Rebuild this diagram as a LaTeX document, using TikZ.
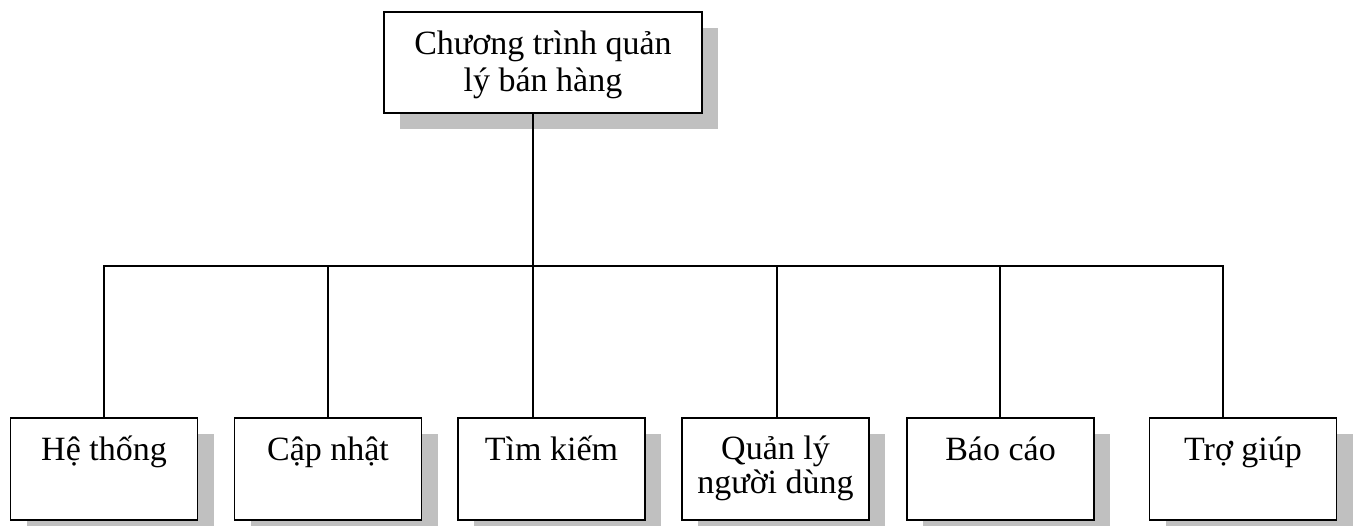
\documentclass[tikz,border=0pt]{standalone}
\usepackage{fontspec}
\setmainfont{Liberation Serif}
\usetikzlibrary{shadows}
\definecolor{shadowgray}{RGB}{192,192,192}
\begin{document}
\begin{tikzpicture}[x=1pt,y=-1pt,
  box/.style={draw=black,line width=1.8pt,fill=white,rectangle,inner sep=0pt,
    minimum height=102pt,minimum width=187pt,
    drop shadow={shadow xshift=16pt,shadow yshift=-16pt,fill=shadowgray,opacity=1}},
  label/.style={anchor=base,align=center,inner sep=0pt,
    font=\fontsize{34}{36}\selectfont},
  wire/.style={line width=1.8pt,line cap=rect}]
\useasboundingbox (0,0) rectangle (1354,526);

% root box
\node[box,minimum width=318pt,minimum height=101pt] (top) at (543,62.5) {};
% the base anchor of a two-line label sits on its last line
\node[label,font=\fontsize{34}{37}\selectfont,yshift=-80pt] (topt) at (top.north)
  {Chương trình quản\\lý bán hàng};

% child boxes
\node[box] (b1) at (104,469) {};
\node[box] (b2) at (328,469) {};
\node[box] (b3) at (551.5,469) {};
\node[box] (b4) at (775.5,469) {};
\node[box] (b5) at (1000.5,469) {};
\node[box] (b6) at (1243,469) {};

\node[label,yshift=-43pt] (t1) at (b1.north) {Hệ thống};
\node[label,yshift=-43pt] (t2) at (b2.north) {Cập nhật};
\node[label,yshift=-43pt] (t3) at (b3.north) {Tìm kiếm};
\node[label,font=\fontsize{34}{34}\selectfont,yshift=-76pt] (t4) at (b4.north)
  {Quản lý\\người dùng};
\node[label,yshift=-43pt] (t5) at (b5.north) {Báo cáo};
\node[label,yshift=-43pt] (t6) at (b6.north) {Trợ giúp};

% junctions on the horizontal bus
\coordinate (j1) at (104,266);
\coordinate (j2) at (328,266);
\coordinate (j3) at (533,266);
\coordinate (j4) at (777,266);
\coordinate (j5) at (1000,266);
\coordinate (j6) at (1223,266);

\draw[wire,line cap=butt] (top.south -| j3) -- (j3);
\draw[wire,line join=miter] (b1.north -| j1) -- (j1) -- (j6) -- (b6.north -| j6);
\foreach \i in {2,3,4,5}
  \draw[wire,line cap=butt] (j\i) -- (b\i.north -| j\i);
\end{tikzpicture}
\end{document}
